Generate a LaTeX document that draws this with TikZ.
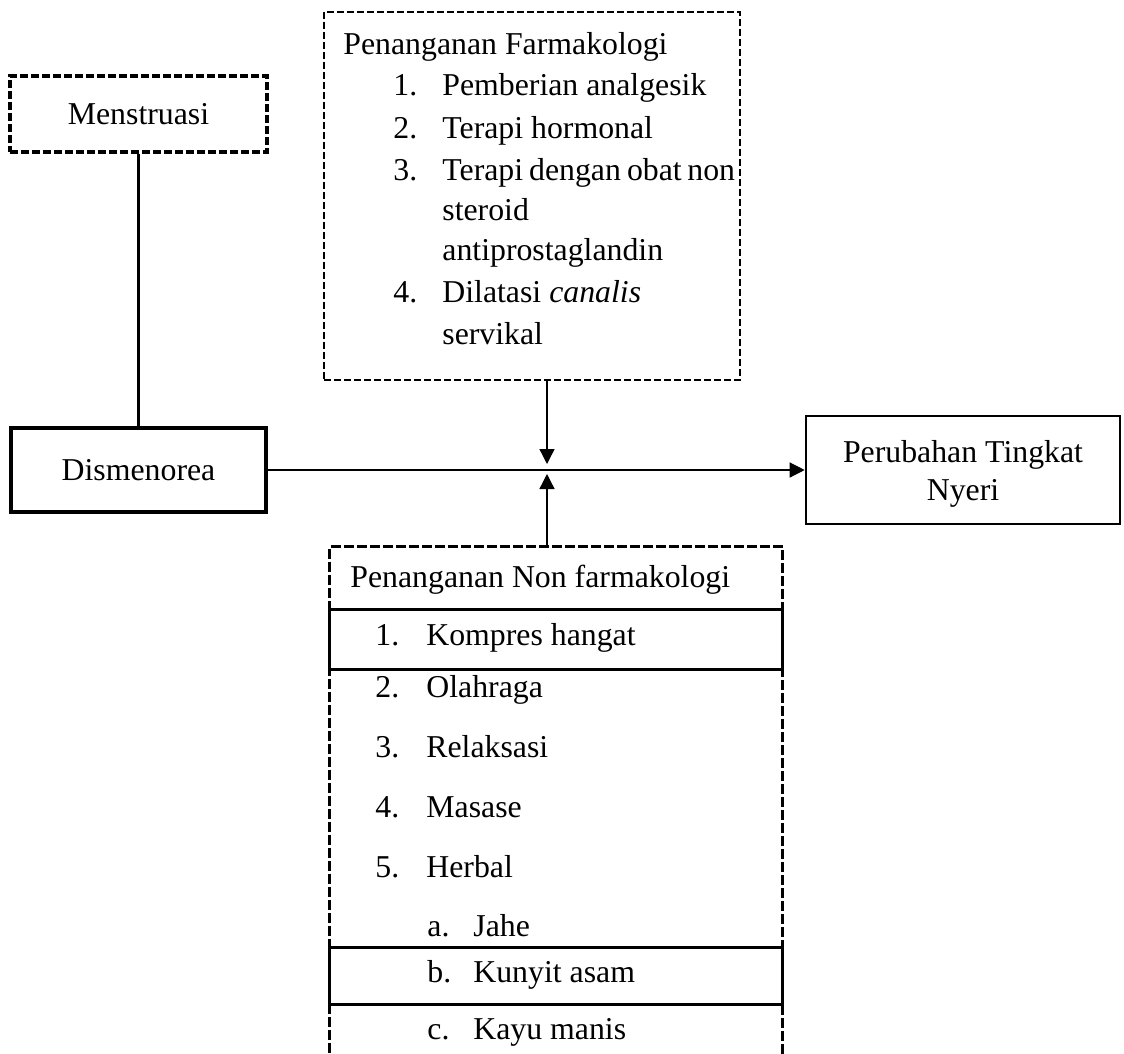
\documentclass[tikz,border=0pt]{standalone}
\usepackage{fontspec}
\setmainfont{Liberation Serif}
\usepackage{tikz}
\usetikzlibrary{arrows.meta, positioning, calc}

\begin{document}
\begin{tikzpicture}
[
  x=0.5pt, y=-0.5pt,
  every node/.style={font=\fontsize{15.9}{19}\selectfont},
  box/.style={draw, rectangle, inner sep=0pt, align=center},
  dashbox/.style={box, dash pattern=on 4pt off 1.5pt},
  item/.style={anchor=base west, inner sep=0pt},
  arr/.style={draw, line width=0.65pt, -{Triangle[length=7.5pt,width=7.5pt]}}
]
\path[use as bounding box, clip] (0,0) rectangle (1124,1054);

\node[dashbox, line width=1.6pt, minimum width=128.5pt, minimum height=38pt] (mens) at (138.5,114) {Menstruasi};
\node[box, line width=1.6pt, minimum width=127.5pt, minimum height=42pt] (dism) at (138.5,470) {Dismenorea};
\node[box, line width=1.3pt, minimum width=157pt, minimum height=54pt] (hasil) at (963,470) {\rule{0pt}{15pt}Perubahan Tingkat\\Nyeri};

% penanganan farmakologi
\node[dashbox, line width=1.1pt, dash pattern=on 3.5pt off 1.5pt, minimum width=208pt, minimum height=184pt] (farm) at (532,196) {};
\node[item] (farmhead) at (343,55) {Penanganan Farmakologi};
\node[item] (fa1) at (393,96) {\makebox[24.5pt][l]{1.}Pemberian analgesik};
\node[item] (fa2) at (393,139) {\makebox[24.5pt][l]{2.}Terapi hormonal};
\node[item] (fa3) at (393,180) {\makebox[24.5pt][l]{3.}Terapi\hspace{3pt}dengan\hspace{3pt}obat\hspace{2.8pt}non};
\node[item] (fa3b) at (442,220) {steroid};
\node[item] (fa3c) at (442,260) {antiprostaglandin};
\node[item] (fa4) at (393,302) {\makebox[24.5pt][l]{4.}Dilatasi \textit{canalis}};
\node[item] (fa4b) at (442,344) {servikal};

% penanganan non farmakologi
\node[dashbox, line width=1.7pt, dash pattern=on 5pt off 1.5pt, anchor=north west, minimum width=226.5pt, minimum height=300pt] (nonfarm) at (328,545) {};
\node[box, line width=1.4pt, anchor=north west, minimum width=226.5pt, minimum height=30pt] (row1) at (328,608) {};
\node[box, line width=1.4pt, anchor=north west, minimum width=226.5pt, minimum height=28.5pt] (rowb) at (328,946) {};
\node[item] (nonhead) at (350,587) {Penanganan Non farmakologi};
\node[item] (nf1) at (375,645) {\makebox[25.5pt][l]{1.}Kompres hangat};
\node[item] (nf2) at (375,697) {\makebox[25.5pt][l]{2.}Olahraga};
\node[item] (nf3) at (375,757) {\makebox[25.5pt][l]{3.}Relaksasi};
\node[item] (nf4) at (375,817) {\makebox[25.5pt][l]{4.}Masase};
\node[item] (nf5) at (375,877) {\makebox[25.5pt][l]{5.}Herbal};
\node[item] (nfa) at (427,936) {\makebox[23pt][l]{a.}Jahe};
\node[item] (nfb) at (427,982) {\makebox[23pt][l]{b.}Kunyit asam};
\node[item] (nfc) at (427,1039) {\makebox[23pt][l]{c.}Kayu manis};

\coordinate (tipdown) at (547,464);
\coordinate (tipup) at (547,474);

\draw[line width=1.3pt] (mens.south) -- (dism.north);
\draw[arr] (dism.east) -- (hasil.west);
\draw[arr] (farm.south -| tipdown) -- (tipdown);
\draw[arr] (nonfarm.north -| tipup) -- (tipup);
\end{tikzpicture}
\end{document}
